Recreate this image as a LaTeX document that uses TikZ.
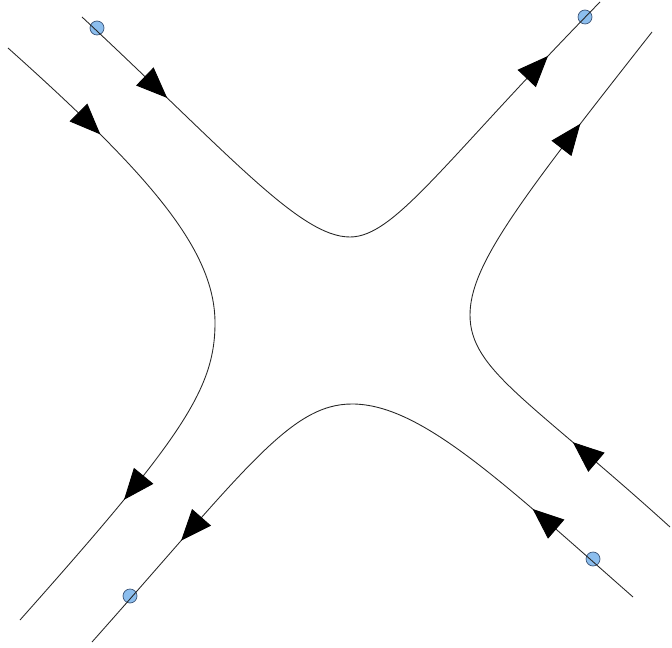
\documentclass[tikz,border=0pt]{standalone}
\usepackage{tikz}
\usetikzlibrary{arrows.meta, decorations.markings}

\definecolor{dotfill}{RGB}{140,190,238}
\definecolor{dotline}{RGB}{60,85,120}

\tikzset{
	orbit/.style={line width=0.5pt, black!85},
	dot/.style={circle, inner sep=0pt, minimum size=0.28cm, fill=dotfill, draw=dotline, line width=0.4pt},
	flow/.style 2 args={postaction={decorate}, decoration={markings,
		mark=at position #1 with {\arrow[black]{Triangle[length=0.62cm, width=0.5cm]}},
		mark=at position #2 with {\arrow[black]{Triangle[length=0.62cm, width=0.5cm]}}}}
}

\begin{document}
\begin{tikzpicture}[x=0.02cm, y=-0.02cm]
				\useasboundingbox (0,0) rectangle (672,648);

				% Starting points on the orbits
				\foreach \n/\x/\y in {tl/97/28, tr/585/17, bl/130/596, br/593/559} {
					\node[dot] (dot-\n) at (\x,\y) {};
				}

				% Upper orbit
				\draw[orbit, flow={2.35cm}{-1.5cm}] (82,17) .. controls (230,155) and (300,237) .. (350,237) .. controls (395,237) and (445,160) .. (600,2);

				% Left orbit
				\draw[orbit, flow={2.53cm}{-3.18cm}] (8,48) .. controls (150,175) and (215,250) .. (215,323) .. controls (215,390) and (180,440) .. (20,620);

				% Right orbit
				\draw[orbit, flow={2.58cm}{-2.33cm}] (670,527) .. controls (530,400) and (470,370) .. (470,315) .. controls (470,265) and (520,200) .. (652,32);

				% Lower orbit
				\draw[orbit, flow={2.67cm}{-2.7cm}] (633,597) .. controls (500,480) and (420,404) .. (352,404) .. controls (290,404) and (245,470) .. (92,642);
\end{tikzpicture}
\end{document}
